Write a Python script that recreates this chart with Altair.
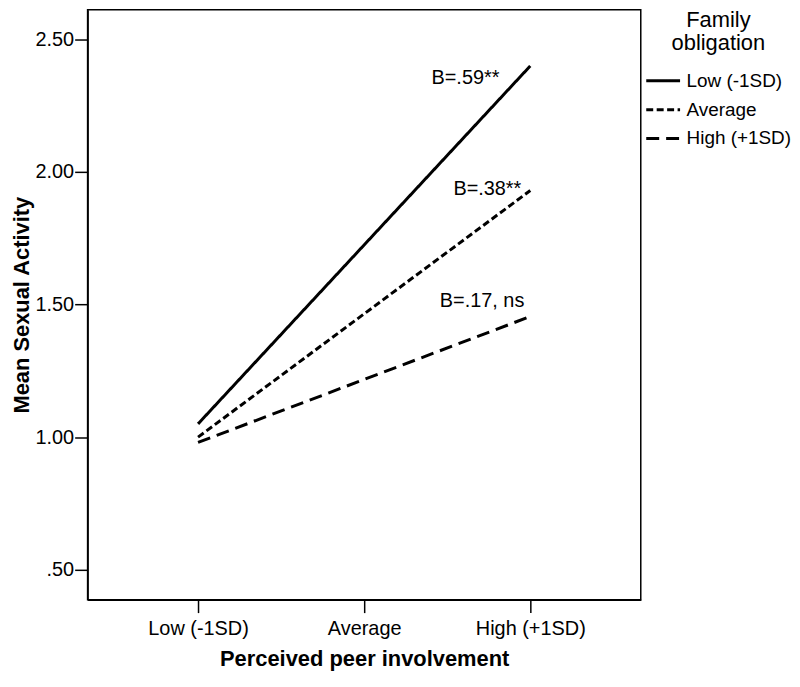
import altair as alt
import pandas as pd

x_levels = ["Low (-1SD)", "Average", "High (+1SD)"]
groups = ["Low (-1SD)", "Average", "High (+1SD)"]
y_at_low = [1.05, 1.00, 0.98]
y_at_high = [2.40, 1.93, 1.455]
ann_text = ["B=.59**", "B=.38**", "B=.17, ns"]
ann_y = [2.355, 1.934, 1.515]
y_ticks = [0.5, 1.0, 1.5, 2.0, 2.5]

rows = []
for g, a, b in zip(groups, y_at_low, y_at_high):
    rows.append({"peer": x_levels[0], "group": g, "y": a})
    rows.append({"peer": x_levels[2], "group": g, "y": b})
df = pd.DataFrame(rows)

FONT = "Liberation Sans"
x_scale = alt.Scale(type="point", domain=x_levels, padding=0.665)
y_scale = alt.Scale(domain=[0.387, 2.612], nice=False, zero=False)

x_axis = alt.Axis(title="Perceived peer involvement", labelPadding=6, titlePadding=10)
y_axis = alt.Axis(
    title="Mean Sexual Activity",
    values=y_ticks,
    labelExpr="datum.value < 1 ? substring(format(datum.value, '.2f'), 1) : format(datum.value, '.2f')",
    labelPadding=1,
    titlePadding=1,
)

lines = alt.Chart(df).mark_line(color="black", strokeWidth=3).encode(
    x=alt.X("peer:N", scale=x_scale, sort=x_levels, axis=x_axis),
    y=alt.Y("y:Q", scale=y_scale, axis=y_axis),
    strokeDash=alt.StrokeDash(
        "group:N",
        scale=alt.Scale(domain=groups, range=[[1, 0], [7, 3.5], [13, 7]]),
        legend=alt.Legend(
            title=["Family", "obligation"],
            titleFontSize=22,
            titleFontWeight="normal",
            titleAlign="center",
            titleAnchor="middle",
            titleLineHeight=24,
            titlePadding=7,
            labelFontSize=19,
            labelOffset=5,
            symbolType="stroke",
            symbolStrokeWidth=3,
            symbolSize=1156,
            symbolStrokeColor="black",
            offset=4,
            padding=0,
            rowPadding=-3,
            orient="right",
        ),
    ),
)

ann_dx = [-31, -9, -6]
layers = [lines]
for t, yv, dx in zip(ann_text, ann_y, ann_dx):
    d = pd.DataFrame({"peer": [x_levels[2]], "y": [yv], "t": [t]})
    layers.append(
        alt.Chart(d).mark_text(align="right", baseline="middle", dx=dx, fontSize=20, font=FONT, color="black").encode(
            x=alt.X("peer:N", scale=x_scale),
            y=alt.Y("y:Q", scale=y_scale),
            text="t:N",
        )
    )

chart = alt.layer(*layers).properties(
    width=556, height=593, padding={"left": 3, "top": 0, "right": 0, "bottom": 0}
).configure(font=FONT).configure_view(
    stroke="black", strokeWidth=1.5
).configure_axis(
    grid=False,
    domainColor="black",
    domainWidth=1.5,
    tickColor="black",
    tickWidth=1.5,
    tickSize=13,
    labelFontSize=20,
    labelColor="black",
    labelAngle=0,
    titleFontSize=22,
    titleFontWeight="bold",
    titleColor="black",
).configure_legend(
    labelColor="black", titleColor="black", labelFont=FONT, titleFont=FONT
)

chart.save("out.html", embed_options={"renderer": "svg", "actions": False})
